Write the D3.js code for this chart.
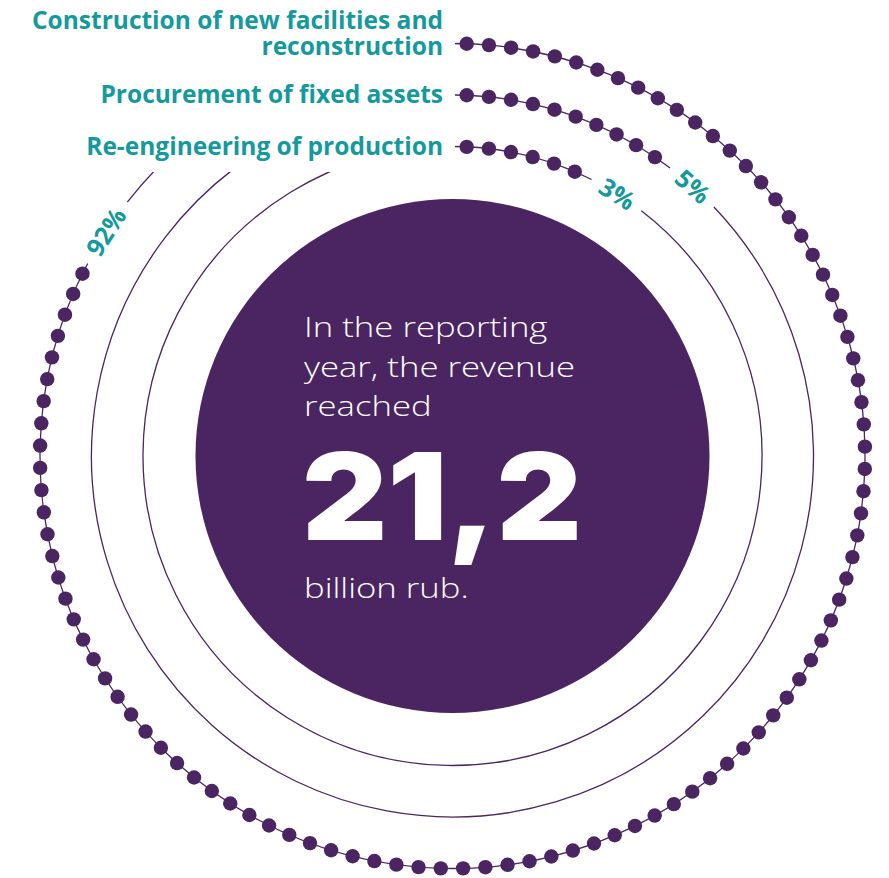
<!DOCTYPE html>
<html>
<head>
<meta charset="utf-8">
<script src="https://cdn.jsdelivr.net/npm/d3@7"></script>
<style>
  html, body { margin: 0; padding: 0; background: #fff; }
  svg { display: block; }
</style>
</head>
<body>
<svg id="chart" width="889" height="878"></svg>
<script>
// Investment structure by direction, share of total (%)
const categories = [
  "Construction of new facilities and reconstruction",
  "Procurement of fixed assets",
  "Re-engineering of production"
];
const categoryLines = [
  ["Construction of new facilities and", "reconstruction"],
  ["Procurement of fixed assets"],
  ["Re-engineering of production"]
];
const shares = [92, 5, 3];
const shareLabels = ["92%", "5%", "3%"];

// Headline figure in the centre
const introLines = ["In the reporting", "year, the revenue", "reached"];
const revenueValue = "21,2";
const revenueUnit = "billion rub.";

const W = 889, H = 878;
const cx = 452.5, cy = 456;
const purple = "#4a2561";
const teal = "#14999c";

const svg = d3.select("#chart");

// one ring per category, outermost first
const ringR = d3.scalePoint().domain(categories).range([412.5, 309.5]);
// share -> angle swept by the bead chain (clockwise from 12 o'clock)
const angle = d3.scalePow().exponent(0.74).domain([0, 100]).range([0, 316 * Math.PI / 180]);

const dotSpacing = 22.3, dotStart = 14.2, dotR = 7.2;
const polar = (theta, r) => [r * Math.sin(theta), -r * Math.cos(theta)];

const g = svg.append("g").attr("transform", `translate(${cx},${cy})`);

// central disc
g.append("circle").attr("r", 257).attr("fill", purple);

const rings = categories.map((c, i) => {
  const r = ringR(c);
  const end = angle(shares[i]);
  const n = Math.round((end * r - dotStart) / dotSpacing) + 1;
  const dots = d3.range(n).map(k => (dotStart + k * dotSpacing) / r);
  const last = dots[dots.length - 1];
  const labelAngle = last + 48 / r;
  return { c, r, share: shares[i], label: shareLabels[i], dots, labelAngle };
});

// percentage labels (measured first so the ring can leave room for them)
const labelLayer = g.append("g");
rings.forEach(d => {
  const [x, y] = polar(d.labelAngle, d.r);
  const t = labelLayer.append("text")
    .attr("transform", `translate(${x},${y}) rotate(${d.labelAngle * 180 / Math.PI})`)
    .attr("text-anchor", "middle")
    .attr("dy", "0.36em")
    .attr("font-family", "'Open Sans', sans-serif")
    .attr("font-weight", 700)
    .attr("font-size", 25)
    .attr("fill", teal)
    .text(d.label);
  d.halfGap = (t.node().getComputedTextLength() / 2 + 11) / d.r;
});

// thin ring lines, broken where the percentage label sits
const lineLayer = g.insert("g", () => labelLayer.node());
rings.forEach(d => {
  const p = d3.path();
  const a0 = d.labelAngle + d.halfGap - Math.PI / 2;
  const a1 = d.labelAngle - d.halfGap + 2 * Math.PI - Math.PI / 2;
  p.arc(0, 0, d.r, a0, a1);
  lineLayer.append("path")
    .attr("d", p.toString())
    .attr("fill", "none")
    .attr("stroke", purple)
    .attr("stroke-width", 1.3);
});

// white backing behind the category captions
lineLayer.append("rect")
  .attr("x", -cx).attr("y", -cy)
  .attr("width", 455).attr("height", 172)
  .attr("fill", "#fff");

// bead chains
rings.forEach(d => {
  lineLayer.append("g").selectAll("circle")
    .data(d.dots)
    .join("circle")
    .attr("cx", a => polar(a, d.r)[0])
    .attr("cy", a => polar(a, d.r)[1])
    .attr("r", dotR)
    .attr("fill", purple);
});

// category captions, right-aligned beside the start of each ring
categories.forEach((c, i) => {
  const r = ringR(c);
  const lines = categoryLines[i];
  const baseY = cy - r + 8 + (lines.length - 1) * 3.5;
  const t = svg.append("text")
    .attr("text-anchor", "end")
    .attr("font-family", "'Open Sans', sans-serif")
    .attr("font-weight", 700)
    .attr("font-size", 24.5)
    .attr("fill", teal);
  lines.forEach((ln, k) => {
    t.append("tspan")
      .attr("x", 443)
      .attr("y", baseY - (lines.length - 1 - k) * 25.7)
      .text(ln);
  });
});

// centre text (light face, set wide)
const centre = svg.append("g")
  .attr("fill", "#fff")
  .attr("transform", "translate(304,0) scale(1.24,1)");
introLines.forEach((ln, k) => {
  centre.append("text")
    .attr("x", 0)
    .attr("y", 337.5 + k * 39.5)
    .attr("font-family", "'Open Sans', sans-serif")
    .attr("font-weight", 300)
    .attr("font-size", 28)
    .text(ln);
});
centre.append("text")
  .attr("x", 0)
  .attr("y", 598.5)
  .attr("font-family", "'Open Sans', sans-serif")
  .attr("font-weight", 300)
  .attr("font-size", 28)
  .text(revenueUnit);

svg.append("text")
  .attr("x", 302)
  .attr("y", 540)
  .attr("fill", "#fff")
  .attr("font-family", "Inter, 'Open Sans', sans-serif")
  .attr("font-weight", 900)
  .attr("font-size", 121)
  .attr("textLength", 280)
  .attr("lengthAdjust", "spacingAndGlyphs")
  .text(revenueValue);
</script>
</body>
</html>
